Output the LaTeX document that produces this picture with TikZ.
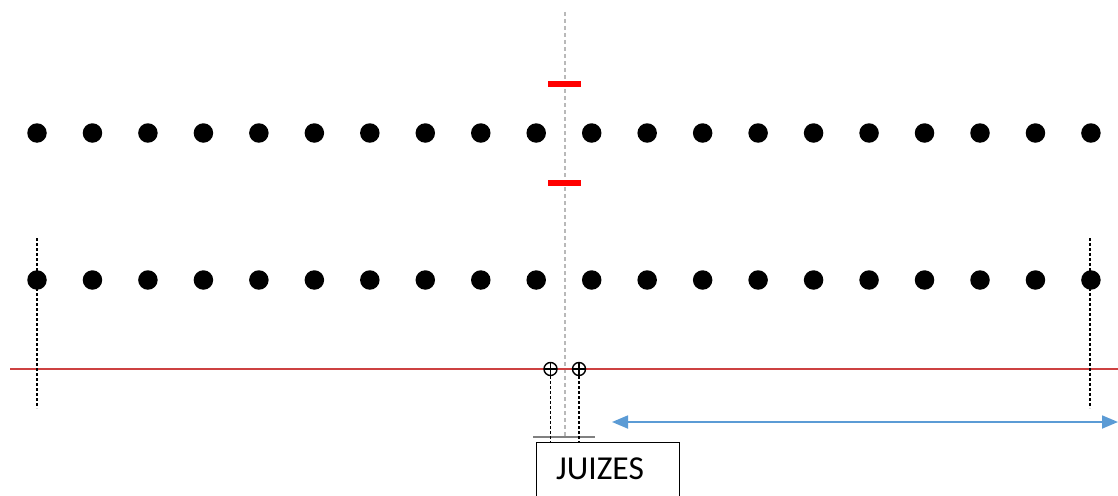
\documentclass[tikz,border=0pt]{standalone}
\usepackage{fontspec}
\setmainfont{Carlito}
\usetikzlibrary{arrows.meta}
\definecolor{lineRed}{RGB}{205,65,65}
\definecolor{markRed}{RGB}{255,0,0}
\definecolor{arrowBlue}{RGB}{91,155,213}
\tikzset{
  dot/.style={circle,fill=black,inner sep=0pt,minimum size=19.5pt},
  judge/.style={circle,draw=black,line width=1.4pt,inner sep=0pt,minimum size=13pt,
    path picture={\draw[line width=1.4pt] (path picture bounding box.north) -- (path picture bounding box.south)
      (path picture bounding box.west) -- (path picture bounding box.east);}},
  guide/.style={line width=1.3pt,dash pattern=on 3pt off 2pt},
  axis/.style={draw=gray!55,line width=1.2pt,dash pattern=on 4pt off 3pt},
  penalty/.style={fill=markRed,draw=none,minimum width=33pt,minimum height=5.5pt,inner sep=0pt},
  labelbox/.style={draw=black,line width=1.2pt,minimum width=143pt,minimum height=60pt,anchor=north west,
    inner sep=0pt}
}
\begin{document}
\begin{tikzpicture}[x=1pt,y=-1pt]
\useasboundingbox (0,0) rectangle (1118,495);
% two rows of twenty dots
\foreach \i in {0,...,19}{
  \node[dot] (a\i) at ({37+\i*55.47},133) {};
  \node[dot] (b\i) at ({37+\i*55.47},280) {};
}
% centre axis
\coordinate (axTop) at (565,12);
\coordinate (axBot) at (565,437);
\draw[axis] (axTop) -- (axBot);
% penalty marks
\node[penalty] (m1) at (564,84) {};
\node[penalty] (m2) at (564,183) {};
% reference line
\coordinate (rl) at (10,369);
\coordinate (rr) at (1118,369);
\draw[draw=lineRed,line width=1.1pt] (rl) -- (rr);
% end guides
\coordinate (gl1) at (37,238); \coordinate (gl2) at (37,408);
\coordinate (gr1) at (1090,238); \coordinate (gr2) at (1090,408);
\draw[guide] (gl1) -- (gl2);
\draw[guide] (gr1) -- (gr2);
% judges
\node[judge] (j1) at (550.5,369) {};
\node[judge] (j2) at (579,369) {};
% judges' box
\node[labelbox] (box) at (536,442) {};
\node (lbl) at (600,469) {\fontsize{33.5}{33.5}\selectfont JUIZES};
\draw[draw=gray,line width=1.2pt] (533,437) coordinate (s1) -- (595,437) coordinate (s2);
\draw[guide] (j1.south) -- (j1.south |- box.north);
\draw[guide] (j2.south) -- (j2.south |- box.north);
% distance arrow
\coordinate (arL) at (612,422);
\coordinate (arR) at (1118,422);
\draw[draw=arrowBlue,fill=arrowBlue,line width=1.8pt,{Triangle[length=16pt,width=13pt]}-{Triangle[length=16pt,width=13pt]}] (arL) -- (arR);
\end{tikzpicture}
\end{document}
